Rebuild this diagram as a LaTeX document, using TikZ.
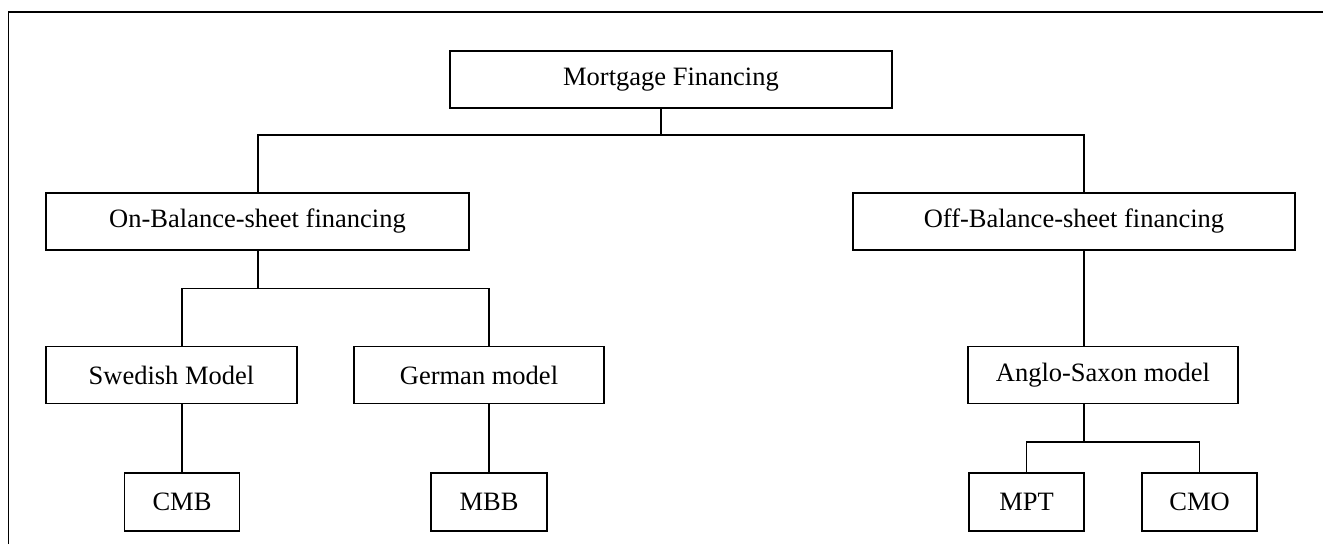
\documentclass[tikz,border=0pt]{standalone}
\usepackage{fontspec}
\setmainfont{Liberation Serif}
\begin{document}
\begin{tikzpicture}[x=1pt,y=-1pt,
  box/.style={draw=black,line width=1.2pt,inner sep=0pt,minimum height=57pt,
    font=\fontsize{26.5}{30}\selectfont,text=black},
  conn/.style={draw=black,line width=1.2pt}]
\useasboundingbox (0,0) rectangle (1323,544);
\draw[line width=1.6pt] (8.5,544) -- (8.5,12) -- (1323,12);
% nodes
\node[box,minimum width=442pt] (mort) at (671,79.5) {Mortgage Financing};
\node[box,minimum width=423pt] (on) at (257.5,221.5) {On-Balance-sheet financing};
\node[box,minimum width=442pt] (off) at (1074,221.5) {Off-Balance-sheet financing};
\node[box,minimum width=251pt] (swe) at (171.5,375) {Swedish Model};
\node[box,minimum width=250pt] (ger) at (479,375) {German model};
\node[box,minimum width=270pt] (ang) at (1103,375) {Anglo-Saxon model};
\node[box,minimum width=115pt,minimum height=58pt] (cmb) at (182,502) {CMB};
\node[box,minimum width=116pt,minimum height=58pt] (mbb) at (489,502) {MBB};
\node[box,minimum width=115pt,minimum height=58pt] (mpt) at (1026.5,502) {MPT};
\node[box,minimum width=115pt,minimum height=58pt] (cmo) at (1199.5,502) {CMO};
% junctions
\coordinate (j1) at (661,135);
\coordinate (j2) at (258,288.5);
\coordinate (j3) at (1084,442);
% connectors
\draw[conn] (mort.south -| j1) -- (j1);
\draw[conn] (on.north -| j2) |- (j1) -| (off.north -| j3);
\draw[conn] (on.south -| j2) -- (j2);
\draw[conn] (swe.north -| cmb.north) |- (j2) -| (ger.north -| mbb.north);
\draw[conn] (swe.south -| cmb.north) -- (cmb.north);
\draw[conn] (ger.south -| mbb.north) -- (mbb.north);
\draw[conn] (off.south -| j3) -- (ang.north -| j3);
\draw[conn] (ang.south -| j3) -- (j3);
\draw[conn] (mpt.north) |- (j3) -| (cmo.north);
\end{tikzpicture}
\end{document}
